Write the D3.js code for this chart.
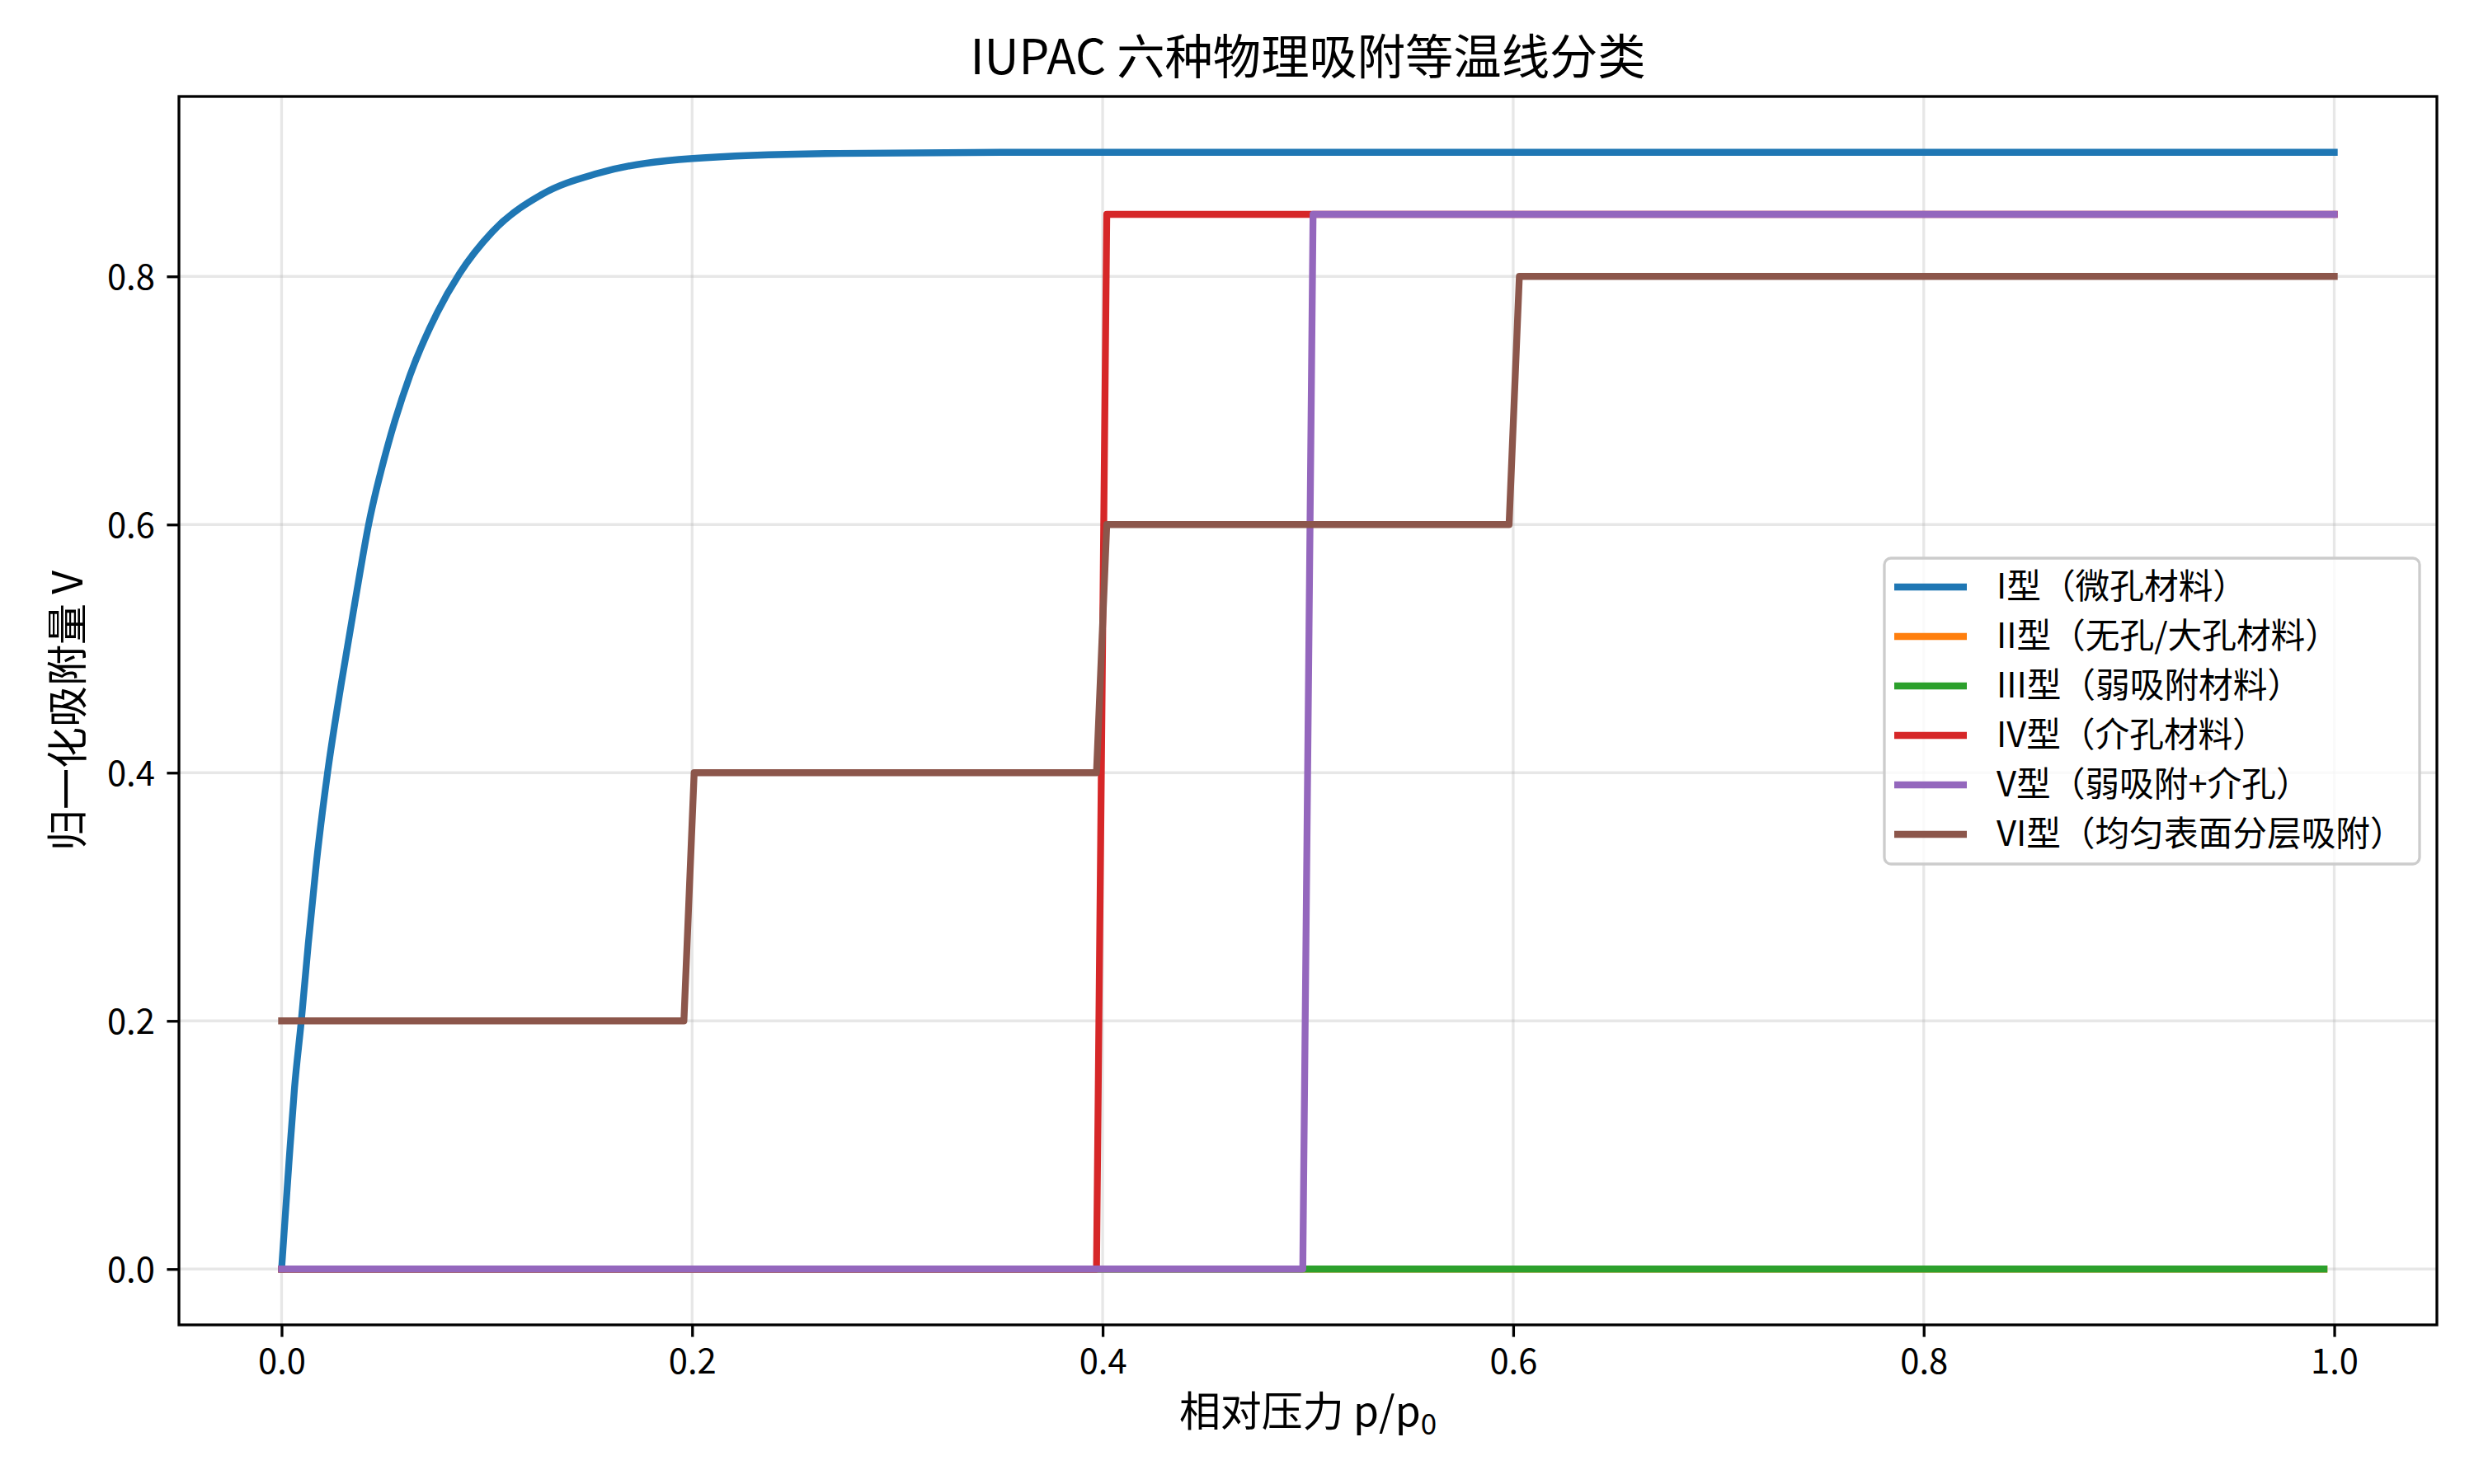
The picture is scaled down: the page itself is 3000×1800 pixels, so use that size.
<!DOCTYPE html>
<html>
<head>
<meta charset="utf-8">
<script src="https://cdn.jsdelivr.net/npm/d3@7"></script>
<style>
  html, body { margin: 0; padding: 0; background: #ffffff; }
  svg { display: block; }
  text { font-family: "Noto Sans CJK SC", "Noto Sans", sans-serif; fill: #000; }
</style>
</head>
<body>
<div id="chart"></div>
<script>
// ---------------- DATA ----------------
const chartTitle = "IUPAC 六种物理吸附等温线分类";
const xLabelMain = "相对压力 p/p";
const xLabelSub = "0";
const yLabel = "归一化吸附量 V";

const xTicks = [0.0, 0.2, 0.4, 0.6, 0.8, 1.0];
const yTicks = [0.0, 0.2, 0.4, 0.6, 0.8];

const seriesNames = [
  "I型（微孔材料）",
  "II型（无孔/大孔材料）",
  "III型（弱吸附材料）",
  "IV型（介孔材料）",
  "V型（弱吸附+介孔）",
  "VI型（均匀表面分层吸附）"
];
const seriesColors = ["#1f77b4", "#ff7f0e", "#2ca02c", "#d62728", "#9467bd", "#8c564b"];

// Type I (micropore) – smooth rise, values estimated from the curve
const pI = [0, 0.0036, 0.0063, 0.0096, 0.013, 0.017, 0.0224, 0.029, 0.0357, 0.0424, 0.0518, 0.0625, 0.0759, 0.0866, 0.1027, 0.1268, 0.154, 0.2003, 0.265, 0.350, 0.500, 1.000];
const vI = [0, 0.086, 0.146, 0.200, 0.262, 0.328, 0.400, 0.471, 0.537, 0.600, 0.664, 0.720, 0.771, 0.802, 0.836, 0.866, 0.883, 0.895, 0.899, 0.900, 0.900, 0.900];

// Type II (hidden under the green line)
const pII = [0, 0.995];
const vII = [0, 0];

// Type III
const pIII = [0, 0.995];
const vIII = [0, 0];

// Type IV – jump near 0.4
const pIV = [0, 0.397, 0.402, 1.0];
const vIV = [0, 0, 0.85, 0.85];

// Type V – jump near 0.5
const pV = [0, 0.4975, 0.5025, 1.0];
const vV = [0, 0, 0.85, 0.85];

// Type VI – stepwise
const pVI = [0, 0.196, 0.201, 0.397, 0.402, 0.598, 0.603, 1.0];
const vVI = [0.2, 0.2, 0.4, 0.4, 0.6, 0.6, 0.8, 0.8];

const seriesP = [pI, pII, pIII, pIV, pV, pVI];
const seriesV = [vI, vII, vIII, vIV, vV, vVI];

// ---------------- LAYOUT ----------------
const W = 3000, H = 1800;
const L = 217, R = 2955, T = 117, B = 1607;
const tickFont = 41.7, labelFont = 50, titleFont = 58.3, legendFont = 41.7;
const tickLen = 14.6, spineW = 3.3;

const svg = d3.select("#chart").append("svg")
  .attr("width", W).attr("height", H)
  .attr("viewBox", `0 0 ${W} ${H}`);
svg.append("rect").attr("width", W).attr("height", H).attr("fill", "#ffffff");

const x = d3.scaleLinear().domain([-0.05, 1.05]).range([L, R]);
const y = d3.scaleLinear().domain([-0.045, 0.945]).range([B, T]);

// grid
const grid = svg.append("g");
grid.selectAll("line.gx").data(xTicks).join("line")
  .attr("x1", d => x(d)).attr("x2", d => x(d))
  .attr("y1", T).attr("y2", B)
  .attr("stroke", "#b0b0b0").attr("stroke-opacity", 0.3).attr("stroke-width", 3.3);
grid.selectAll("line.gy").data(yTicks).join("line")
  .attr("y1", d => y(d)).attr("y2", d => y(d))
  .attr("x1", L).attr("x2", R)
  .attr("stroke", "#b0b0b0").attr("stroke-opacity", 0.3).attr("stroke-width", 3.3);

// clip
svg.append("clipPath").attr("id", "plotclip")
  .append("rect").attr("x", L).attr("y", T).attr("width", R - L).attr("height", B - T);

const plot = svg.append("g").attr("clip-path", "url(#plotclip)");
seriesP.forEach((ps, i) => {
  const pts = ps.map((p, j) => [p, seriesV[i][j]]);
  const line = d3.line().x(d => x(d[0])).y(d => y(d[1]))
    .curve(i === 0 ? d3.curveMonotoneX : d3.curveLinear);
  plot.append("path").datum(pts)
    .attr("d", line)
    .attr("fill", "none")
    .attr("stroke", seriesColors[i])
    .attr("stroke-width", 8.3)
    .attr("stroke-linejoin", "round")
    .attr("stroke-linecap", "square");
});

// axes
const fmt = d3.format(".1f");
const gx = svg.append("g").attr("transform", `translate(0,${B})`)
  .call(d3.axisBottom(x).tickValues(xTicks).tickFormat(fmt).tickSize(tickLen).tickPadding(14.6));
gx.select(".domain").remove();
gx.selectAll(".tick line").attr("stroke", "#000").attr("stroke-width", spineW);
gx.selectAll(".tick text").attr("font-size", tickFont)
  .attr("font-family", "'Noto Sans CJK SC', sans-serif")
  .attr("dy", null).attr("y", 1666 - B).attr("fill", "#000");

const gy = svg.append("g").attr("transform", `translate(${L},0)`)
  .call(d3.axisLeft(y).tickValues(yTicks).tickFormat(fmt).tickSize(tickLen).tickPadding(14.6));
gy.select(".domain").remove();
gy.selectAll(".tick line").attr("stroke", "#000").attr("stroke-width", spineW);
gy.selectAll(".tick text").attr("font-size", tickFont)
  .attr("font-family", "'Noto Sans CJK SC', sans-serif")
  .attr("dy", "0.36em").attr("fill", "#000");

// spines
svg.append("rect").attr("x", L).attr("y", T).attr("width", R - L).attr("height", B - T)
  .attr("fill", "none").attr("stroke", "#000").attr("stroke-width", spineW);

// title
svg.append("text").attr("x", (L + R) / 2).attr("y", 90)
  .attr("text-anchor", "middle").attr("font-size", titleFont).text(chartTitle);

// x label
const xl = svg.append("text").attr("x", (L + R) / 2).attr("y", 1730)
  .attr("text-anchor", "middle").attr("font-size", labelFont);
xl.append("tspan").text(xLabelMain);
xl.append("tspan").attr("font-size", labelFont * 0.7).attr("dy", 10).text(xLabelSub);

// y label
svg.append("text").attr("transform", `translate(100,${(T + B) / 2}) rotate(-90)`)
  .attr("text-anchor", "middle").attr("font-size", labelFont).text(yLabel);

// legend
const lgL = 2285, lgR = 2934, lgT = 677, lgB = 1048;
const lg = svg.append("g");
lg.append("rect").attr("x", lgL).attr("y", lgT).attr("width", lgR - lgL).attr("height", lgB - lgT)
  .attr("rx", 8).attr("ry", 8)
  .attr("fill", "#ffffff").attr("fill-opacity", 0.8)
  .attr("stroke", "#cccccc").attr("stroke-width", 3.3);
const rowY = d3.scaleLinear().domain([0, 5]).range([712, 1012]);
seriesNames.forEach((name, i) => {
  const cy = rowY(i);
  lg.append("line").attr("x1", 2297).attr("x2", 2385).attr("y1", cy).attr("y2", cy)
    .attr("stroke", seriesColors[i]).attr("stroke-width", 8.3).attr("stroke-linecap", "butt");
  lg.append("text").attr("x", 2421).attr("y", cy + 14)
    .attr("font-size", legendFont).text(name);
});
</script>
</body>
</html>
